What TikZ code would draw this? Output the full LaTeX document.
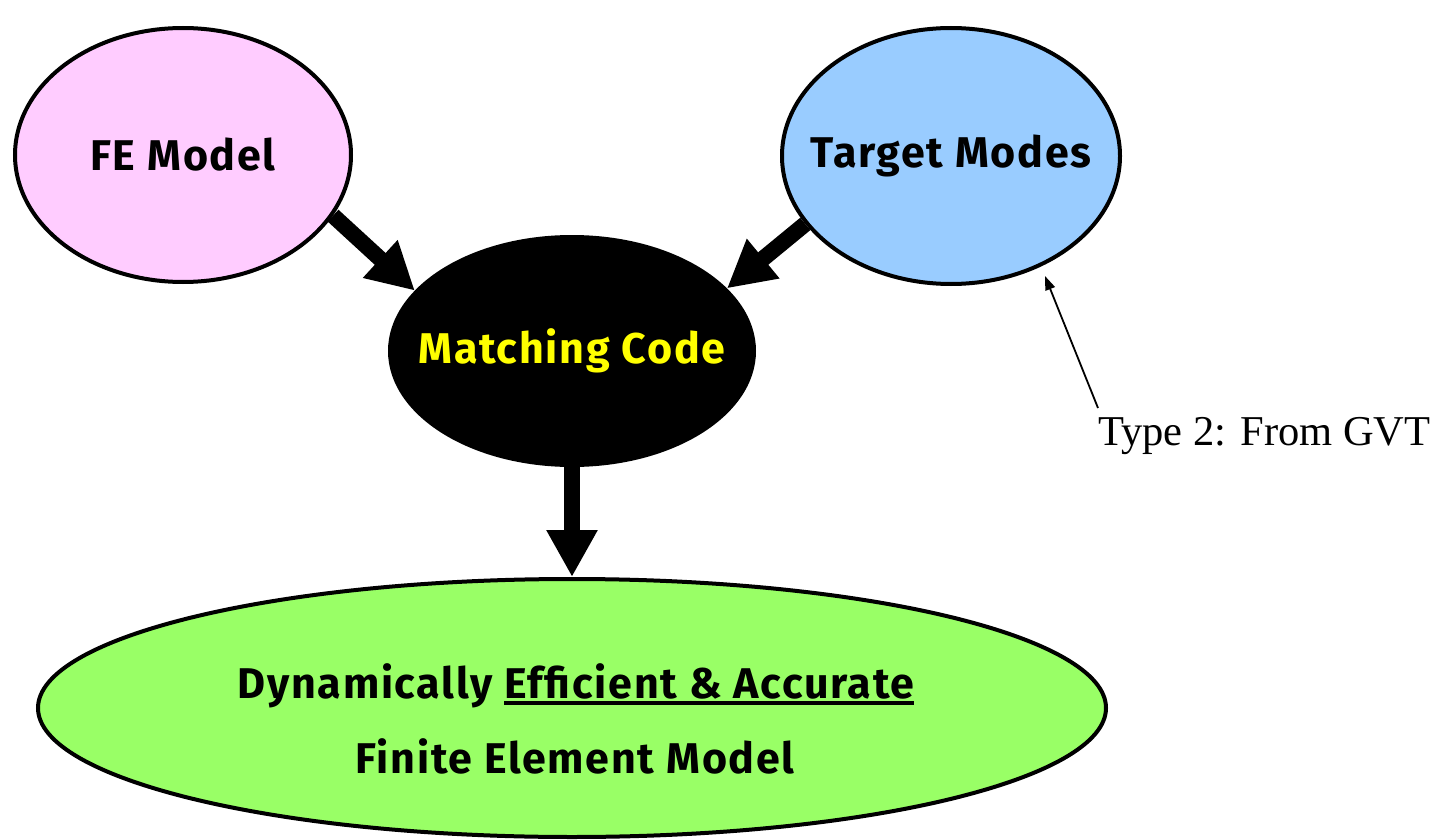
\documentclass[tikz,border=0pt]{standalone}
\usepackage{fontspec}
\setmainfont{Liberation Serif}
\newfontfamily\labelfont[LetterSpace=4]{Fira Sans}
\usetikzlibrary{shapes.geometric,arrows.meta}
\definecolor{fepink}{HTML}{FFCCFF}
\definecolor{tmblue}{HTML}{99CCFF}
\definecolor{resgreen}{HTML}{99FF66}
\definecolor{codeyellow}{HTML}{FFFF00}
\newcommand\thickunder[1]{\setbox0\hbox{#1}\rlap{\rule[-7pt]{\wd0}{4pt}}\box0}
\tikzset{
  blob/.style={ellipse, draw=black, line width=4pt, inner sep=0pt},
  bold label/.style={font=\labelfont\bfseries\fontsize{43}{50}\selectfont, align=center},
  flow/.style={line width=16pt, -{Triangle[width=48pt,length=47pt]}},
  note/.style={line width=1.8pt, -{Triangle[length=14pt,width=10pt]}},
}
\begin{document}
\begin{tikzpicture}[x=1pt,y=-1pt]
\useasboundingbox (0,0) rectangle (1441,840);
\node[blob, fill=fepink, minimum width=336pt, minimum height=254pt] (fe) at (183,155) {};
\node[bold label] at (fe.center) {FE Model};
\node[blob, fill=tmblue, minimum width=338pt, minimum height=256pt] (tm) at (951,156) {};
\node[bold label] at (tm.center) {Target Modes};
\node[blob, fill=black, minimum width=364pt, minimum height=228pt] (mc) at (572,351) {};
\node[bold label, text=codeyellow] at (mc.center) {Matching Code};
\node[blob, fill=resgreen, minimum width=1068pt, minimum height=258pt] (res) at (572,708) {};
\node[bold label, anchor=base] at (576,698) {Dynamically \thickunder{Efficient \& Accurate}};
\node[bold label, anchor=base] at (575,773) {Finite Element Model};
\node[font=\fontsize{42.5}{50}\selectfont, anchor=base west, inner sep=0pt] (gvt) at (1098,445) {Type 2: From GVT};
\coordinate (gvtstart) at (1098,408);
\draw[flow] (fe.-22) -- (mc.159);
\draw[flow] (tm.205) -- (mc.22);
\draw[flow] (mc.south) -- (res.north);
\draw[note] (gvtstart) -- (1045,276);
\end{tikzpicture}
\end{document}
